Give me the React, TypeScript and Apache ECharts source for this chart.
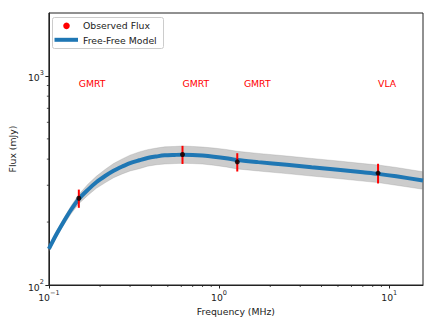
import React, { useEffect, useRef } from 'react';
import * as echarts from 'echarts';

// Model curve (Free-Free)
const modelFreq = [0.1, 0.11, 0.12, 0.135, 0.15, 0.17, 0.19, 0.215, 0.24, 0.27, 0.3, 0.34, 0.38, 0.43, 0.48, 0.55, 0.61, 0.7, 0.8, 0.93, 1.1, 1.28, 1.7, 2.5, 3.5, 5, 7, 8.6, 11, 15.8];
const modelFlux = [149, 173, 196, 229, 258, 286, 310, 333, 352, 369, 383, 395, 405, 412, 417, 419, 420, 419, 416, 411, 404, 396, 387, 376, 366, 356, 346, 340, 331, 316];
const modelUpper = [153, 179, 203, 239, 271, 304, 331, 358, 381, 401, 418, 433, 444, 452, 458, 460, 462, 460, 457, 452, 445, 436, 426, 414, 403, 392, 381, 375, 365, 348];
const modelLower = [145, 167, 189, 219, 245, 269, 290, 309, 326, 340, 351, 360, 370, 376, 379, 381, 382, 381, 379, 374, 367, 359, 351, 341, 332, 323, 314, 309, 300, 287];

// Observed flux points
const obsFreq = [0.15, 0.61, 1.28, 8.6];
const obsFlux = [260, 421, 388, 343];
const obsErr = [26, 42, 39, 37];

// Telescope annotations
const telescopes = ['GMRT', 'GMRT', 'GMRT', 'VLA'];
const telescopeFreq = [0.15, 0.61, 1.4, 8.6];
const telescopeFlux = [900, 900, 900, 900];

// Axis ranges and minor ticks
const xRange = [0.1, 15.8];
const yRange = [100, 2000];
const xMinorTicks = [0.2, 0.3, 0.4, 0.5, 0.6, 0.7, 0.8, 0.9, 2, 3, 4, 5, 6, 7, 8, 9];
const yMinorTicks = [200, 300, 400, 500, 600, 700, 800, 900];

const FONT = 'DejaVu Sans';
const INK = '#222222';

function powLabel(v: number): string {
  const l = Math.log10(v);
  const e = Math.round(l);
  if (Math.abs(l - e) > 1e-6) return '';
  const exp = e < 0 ? '\u2212' + -e : String(e);
  return '{b|10}{s|' + exp + '}';
}

const richLabel = {
  b: { fontSize: 9.3, fontFamily: FONT, color: INK, lineHeight: 13, verticalAlign: 'bottom' },
  s: { fontSize: 6.5, fontFamily: FONT, color: INK, lineHeight: 8, verticalAlign: 'top' },
};

export default function App() {
  const ref = useRef<HTMLDivElement>(null);
  useEffect(() => {
    if (!ref.current) return;
    const chart = echarts.init(ref.current, null, { renderer: 'svg' });
    const option: any = {
      animation: false,
      textStyle: { fontFamily: FONT },
      grid: { left: 47, right: 13, top: 13, bottom: 42, show: true, borderColor: INK, borderWidth: 1, backgroundColor: 'transparent' },
      xAxis: {
        type: 'log',
        logBase: 10,
        min: xRange[0],
        max: xRange[1],
        name: 'Frequency (MHz)',
        nameLocation: 'middle',
        nameGap: 21,
        nameTextStyle: { fontSize: 9.3, color: INK, fontFamily: FONT },
        axisLine: { show: true, lineStyle: { color: INK, width: 1 } },
        axisTick: { show: true, length: 3.5, lineStyle: { color: INK, width: 1 } },
        axisLabel: { margin: 4, formatter: powLabel, rich: richLabel, showMaxLabel: false },
        splitLine: { show: false },
      },
      yAxis: {
        type: 'log',
        logBase: 10,
        min: yRange[0],
        max: yRange[1],
        name: 'Flux (mJy)',
        nameLocation: 'middle',
        nameGap: 29,
        nameRotate: 90,
        nameTextStyle: { fontSize: 9.3, color: INK, fontFamily: FONT },
        axisLine: { show: true, lineStyle: { color: INK, width: 1 } },
        axisTick: { show: true, length: 3.5, lineStyle: { color: INK, width: 1 } },
        axisLabel: { margin: 5, formatter: powLabel, rich: richLabel, showMaxLabel: false },
        splitLine: { show: false },
      },
      series: [
        {
          type: 'custom',
          name: 'band',
          data: [[modelFreq[0], modelFlux[0]]],
          encode: { x: 0, y: 1 },
          silent: true,
          z: 1,
          renderItem: (params: any, api: any) => {
            const pts: number[][] = [];
            for (let i = 0; i < modelFreq.length; i++) pts.push(api.coord([modelFreq[i], modelUpper[i]]));
            for (let i = modelFreq.length - 1; i >= 0; i--) pts.push(api.coord([modelFreq[i], modelLower[i]]));
            return {
              type: 'polygon',
              shape: { points: pts },
              style: { fill: 'rgba(128,128,128,0.4)', stroke: 'rgba(128,128,128,0.3)', lineWidth: 0.8 },
            };
          },
        },
        {
          type: 'line',
          name: 'Free-Free Model',
          data: modelFreq.map((f, i) => [f, modelFlux[i]]),
          showSymbol: false,
          smooth: 0.3,
          lineStyle: { color: '#1f77b4', width: 4 },
          z: 3,
        },
        {
          type: 'custom',
          name: 'errorbars',
          data: obsFreq.map((f, i) => [f, obsFlux[i], obsErr[i]]),
          encode: { x: 0, y: 1 },
          z: 4,
          renderItem: (params: any, api: any) => {
            const x = api.value(0);
            const y = api.value(1);
            const e = api.value(2);
            const p1 = api.coord([x, y - e]);
            const p2 = api.coord([x, y + e]);
            return {
              type: 'line',
              shape: { x1: p1[0], y1: p1[1], x2: p2[0], y2: p2[1] },
              style: { stroke: '#ff0000', lineWidth: 2 },
            };
          },
        },
        {
          type: 'scatter',
          name: 'Observed Flux',
          data: obsFreq.map((f, i) => [f, obsFlux[i]]),
          symbol: 'circle',
          symbolSize: 5,
          itemStyle: { color: '#000000' },
          z: 5,
        },
        {
          type: 'custom',
          name: 'telescopes',
          data: telescopeFreq.map((f, i) => [f, telescopeFlux[i]]),
          encode: { x: 0, y: 1 },
          z: 5,
          renderItem: (params: any, api: any) => {
            const p = api.coord([api.value(0), api.value(1)]);
            return {
              type: 'text',
              x: p[0],
              y: p[1] + 2,
              style: {
                text: telescopes[params.dataIndex],
                fill: '#ff0000',
                fontSize: 9.3,
                fontFamily: FONT,
                align: 'left',
                verticalAlign: 'bottom',
              },
            };
          },
        },
        {
          type: 'custom',
          name: 'xMinor',
          data: xMinorTicks.map((v) => [v, yRange[0]]),
          encode: { x: 0, y: 1 },
          clip: false,
          z: 6,
          renderItem: (params: any, api: any) => {
            const p = api.coord([api.value(0), api.value(1)]);
            return {
              type: 'line',
              shape: { x1: p[0], y1: p[1], x2: p[0], y2: p[1] + 2 },
              style: { stroke: INK, lineWidth: 0.8 },
            };
          },
        },
        {
          type: 'custom',
          name: 'yMinor',
          data: yMinorTicks.map((v) => [xRange[0], v]),
          encode: { x: 0, y: 1 },
          clip: false,
          z: 6,
          renderItem: (params: any, api: any) => {
            const p = api.coord([api.value(0), api.value(1)]);
            return {
              type: 'line',
              shape: { x1: p[0] - 2, y1: p[1], x2: p[0], y2: p[1] },
              style: { stroke: INK, lineWidth: 0.8 },
            };
          },
        },
      ],
      graphic: [
        {
          type: 'group',
          left: 52,
          top: 17,
          z: 100,
          children: [
            {
              type: 'rect',
              shape: { x: 0, y: 0, width: 111, height: 31, r: 2 },
              style: { fill: 'rgba(255,255,255,0.8)', stroke: '#cccccc', lineWidth: 1 },
            },
            {
              type: 'circle',
              shape: { cx: 14, cy: 8.3, r: 3.3 },
              style: { fill: '#ff0000' },
            },
            {
              type: 'line',
              shape: { x1: 2, y1: 22.3, x2: 25.5, y2: 22.3 },
              style: { stroke: '#1f77b4', lineWidth: 4 },
            },
            {
              type: 'text',
              x: 30.5,
              y: 8.3,
              style: { text: 'Observed Flux', fill: INK, fontSize: 9.3, fontFamily: FONT, verticalAlign: 'middle', align: 'left' },
            },
            {
              type: 'text',
              x: 30.5,
              y: 22.6,
              style: { text: 'Free-Free Model', fill: INK, fontSize: 9.3, fontFamily: FONT, verticalAlign: 'middle', align: 'left' },
            },
          ],
        },
      ],
    };
    chart.setOption(option);
    return () => chart.dispose();
  }, []);
  return (
    <div
      ref={ref}
      style={{ position: 'fixed', left: 0, top: 0, width: 436, height: 327, background: '#ffffff' }}
    />
  );
}
